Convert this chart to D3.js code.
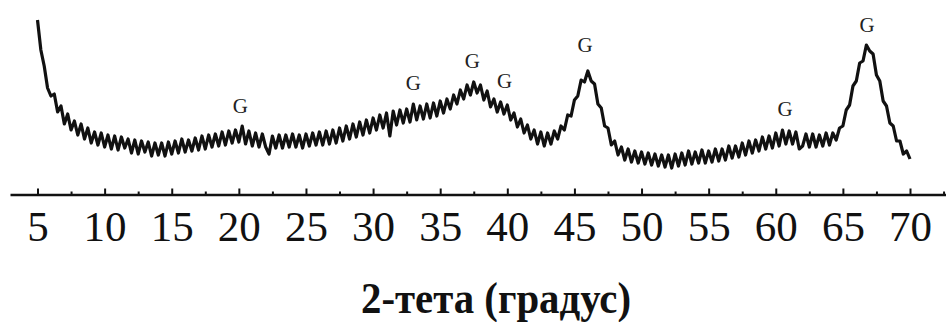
<!DOCTYPE html>
<html>
<head>
<meta charset="utf-8">
<script src="https://cdn.jsdelivr.net/npm/d3@7"></script>
<style>
  html, body { margin: 0; padding: 0; background: #fff; }
  svg { display: block; }
  .serif { font-family: "Liberation Serif", "Times New Roman", Times, serif; }
</style>
</head>
<body>
<svg width="946" height="322"></svg>
<script>
// scan grid: 5 -> 70 deg, 0.25 deg per step
const startAngle = 5;
const stepAngle = 0.25;
// intensity (arb. units), one row per degree
const intensity = [
  170, 140, 124, 102,   // 5
  94, 96, 78, 84,       // 6
  66, 76, 60, 69,       // 7
  55, 66, 51, 62,       // 8
  47, 58, 45, 57,       // 9
  43, 55, 41, 54,       // 10
  40, 53, 42, 51,       // 11
  37, 50, 36, 49,       // 12
  38, 48, 34, 47,       // 13
  35, 47, 34, 48,       // 14
  36, 49, 37, 51,       // 15
  38, 50, 39, 52,       // 16
  40, 54, 41, 55,       // 17
  43, 56, 44, 58,       // 18
  45, 59, 47, 60,       // 19
  48, 64, 46, 59,       // 20
  44, 57, 43, 56,       // 21
  43, 36, 54, 42,       // 22
  55, 42, 55, 43,       // 23
  56, 43, 55, 42,       // 24
  56, 44, 57, 45,       // 25
  58, 45, 59, 46,       // 26
  60, 47, 62, 49,       // 27
  64, 51, 66, 53,       // 28
  68, 55, 70, 57,       // 29
  72, 60, 75, 62,       // 30
  77, 54, 79, 65,       // 31
  80, 67, 81, 68,       // 32
  86, 70, 84, 71,       // 33
  86, 72, 87, 74,       // 34
  89, 77, 91, 81,       // 35
  95, 86, 100, 91,      // 36
  105, 95, 108, 97,     // 37
  105, 90, 99, 83,      // 38
  91, 78, 88, 76,       // 39
  85, 70, 77, 63,       // 40
  71, 57, 65, 51,       // 41
  60, 46, 58, 44,       // 42
  57, 46, 59, 51,       // 43
  64, 60, 75, 74,       // 44
  90, 94, 110, 108,     // 45
  119, 109, 106, 86,    // 46
  82, 64, 62, 45,       // 47
  49, 35, 43, 30,       // 48
  41, 28, 39, 27,       // 49
  38, 26, 37, 25,       // 50
  36, 24, 35, 23,       // 51
  35, 22, 36, 24,       // 52
  37, 25, 39, 26,       // 53
  38, 27, 40, 27,       // 54
  39, 28, 41, 29,       // 55
  41, 30, 44, 32,       // 56
  44, 33, 47, 35,       // 57
  49, 37, 50, 39,       // 58
  53, 41, 54, 42,       // 59
  57, 44, 60, 46,       // 60
  59, 46, 58, 41,       // 61
  44, 56, 43, 56,       // 62
  43, 55, 44, 57,       // 63
  45, 57, 50, 62,       // 64
  64, 80, 85, 104,      // 65
  109, 127, 129, 145,   // 66
  139, 136, 115, 109,   // 67
  89, 84, 67, 64,       // 68
  49, 49, 36, 39,       // 69
  31                    // 70
];

const majorTicks = [5, 10, 15, 20, 25, 30, 35, 40, 45, 50, 55, 60, 65, 70];
const minorTicks = [7.5, 12.5, 17.5, 22.5, 27.5, 32.5, 37.5, 42.5, 47.5, 52.5, 57.5, 62.5, 67.5, 72.5];

// phase markers (G) : angle and height of the letter
const peakAngle = [20.1, 33.0, 37.4, 39.8, 45.8, 60.7, 66.8];
const peakLabelLevel = [77, 100, 122, 102, 138, 74, 158];

const axisTitle = "2-тета (градус)";

const svg = d3.select("svg");
const x = d3.scaleLinear().domain([5, 70]).range([37.5, 910]);
const y = d3.scaleLinear().domain([0, 180]).range([190, 10]);
const axisY = 194.5;

// squeeze text to the widths seen in the picture, whatever serif face is found
function fitWidth(sel, emWidth) {
  sel.each(function() {
    const fs = parseFloat(this.style.fontSize);
    const n = this.textContent.length;
    const w = this.getComputedTextLength();
    const target = emWidth(this.textContent, n) * fs;
    if (w > target) {
      d3.select(this).attr("textLength", target).attr("lengthAdjust", "spacingAndGlyphs");
    }
  });
}

const points = intensity.map((v, i) => ({ a: startAngle + i * stepAngle, v: v }));

const line = d3.line()
  .x(d => x(d.a))
  .y(d => y(d.v));

svg.append("path")
  .datum(points)
  .attr("fill", "none")
  .attr("stroke", "#111")
  .attr("stroke-width", 3.2)
  .attr("stroke-linejoin", "round")
  .attr("d", line);

// peak letters
const peaks = svg.selectAll("text.peak")
  .data(peakAngle)
  .enter().append("text")
  .attr("class", "peak serif")
  .attr("x", d => x(d))
  .attr("y", (d, i) => y(peakLabelLevel[i]))
  .attr("text-anchor", "middle")
  .style("font-size", "21px")
  .attr("fill", "#222")
  .text("G");
fitWidth(peaks, () => 0.72);

// axis: wider scale copy so the line runs edge to edge
const xa = x.copy().domain([x.invert(10), x.invert(946)]).range([10, 946]);

const gMinor = svg.append("g")
  .attr("transform", "translate(0," + axisY + ")")
  .call(d3.axisBottom(xa).tickValues(minorTicks).tickSizeInner(-3).tickSizeOuter(0).tickFormat(""));
gMinor.select(".domain").remove();
gMinor.selectAll("line").attr("stroke", "#111").attr("stroke-width", 2);

const gMajor = svg.append("g")
  .attr("transform", "translate(0," + axisY + ")")
  .call(d3.axisBottom(xa).tickValues(majorTicks).tickSizeInner(-6).tickSizeOuter(0).tickPadding(16));
gMajor.attr("font-family", null).attr("font-size", null);
gMajor.select(".domain").attr("stroke", "#111").attr("stroke-width", 2.5);
gMajor.selectAll("line").attr("stroke", "#111").attr("stroke-width", 2);
const tickText = gMajor.selectAll("text")
  .attr("class", "serif")
  .style("font-size", "43px")
  .attr("fill", "#111");
fitWidth(tickText, (s, n) => 0.5 * n);

const title = svg.append("text")
  .attr("class", "serif")
  .attr("x", 496)
  .attr("y", 313)
  .attr("text-anchor", "middle")
  .style("font-weight", "bold")
  .style("font-size", "45px")
  .attr("fill", "#111")
  .text(axisTitle);
fitWidth(title, () => 270 / 45);
</script>
</body>
</html>
